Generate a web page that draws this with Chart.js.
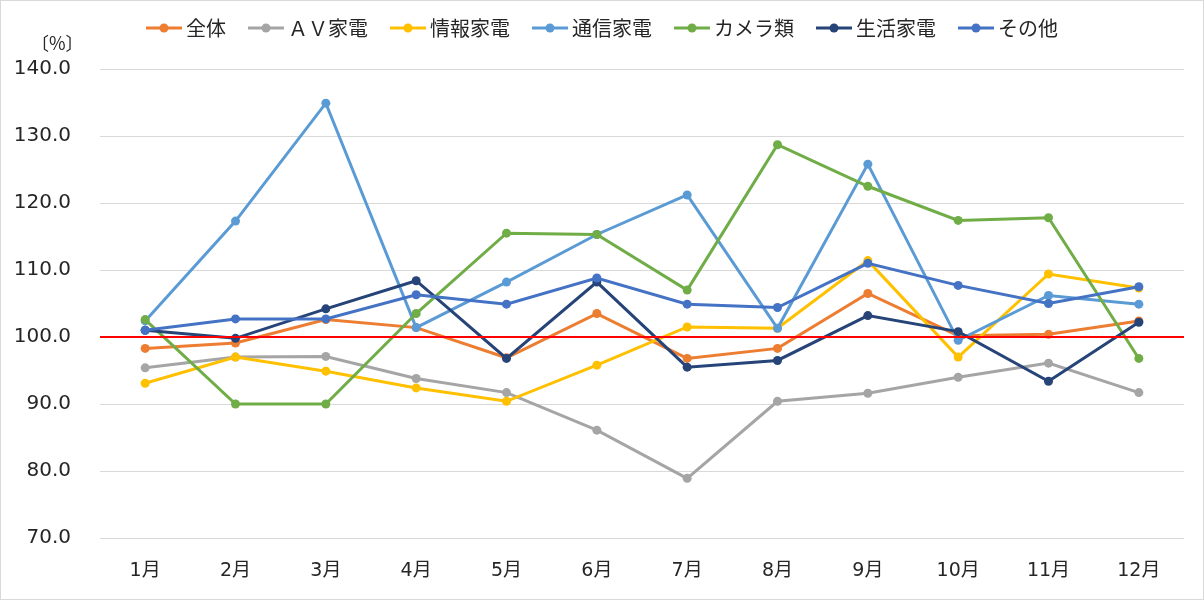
<!DOCTYPE html>
<html>
<head>
<meta charset="utf-8">
<script src="https://cdn.jsdelivr.net/npm/chart.js@4/dist/chart.umd.min.js"></script>
<style>
  html, body { margin: 0; padding: 0; background: #fff; }
  canvas { display: block; }
</style>
</head>
<body>
<canvas id="c" width="1204" height="600"></canvas>
<script>
const months = ['1月','2月','3月','4月','5月','6月','7月','8月','9月','10月','11月','12月'];
const seriesNames = ['全体','ＡＶ家電','情報家電','通信家電','カメラ類','生活家電','その他'];
const zentai   = [98.3, 99.1, 102.6, 101.4, 96.9, 103.5, 96.8, 98.3, 106.5, 100.2, 100.4, 102.4];
const avKaden  = [95.4, 97.0, 97.1, 93.8, 91.7, 86.1, 78.9, 90.4, 91.6, 94.0, 96.1, 91.7];
const johoKaden= [93.1, 97.0, 94.9, 92.4, 90.4, 95.8, 101.5, 101.3, 111.4, 97.0, 109.4, 107.3];
const tsushin  = [102.4, 117.3, 134.9, 101.4, 108.2, 115.3, 121.2, 101.3, 125.8, 99.5, 106.2, 104.9];
const camera   = [102.6, 90.0, 90.0, 103.5, 115.5, 115.3, 107.0, 128.7, 122.5, 117.4, 117.8, 96.8];
const seikatsu = [101.0, 99.8, 104.2, 108.4, 96.8, 108.2, 95.5, 96.5, 103.2, 100.8, 93.4, 102.2];
const sonota   = [101.0, 102.7, 102.7, 106.3, 104.9, 108.8, 104.9, 104.4, 111.0, 107.7, 105.0, 107.5];
const referenceLine = 100;
const yMin = 70, yMax = 140, yStep = 10;
const unitLabel = '〔%〕';

const seriesValues = [zentai, avKaden, johoKaden, tsushin, camera, seikatsu, sonota];
const colors = ['#ED7D31','#A5A5A5','#FFC000','#5B9BD5','#70AD47','#264478','#4472C4'];

function makeLegendIcon(color) {
  const cv = document.createElement('canvas');
  cv.width = 36; cv.height = 12;
  const g = cv.getContext('2d');
  g.strokeStyle = color; g.lineWidth = 3;
  g.beginPath(); g.moveTo(0, 6); g.lineTo(36, 6); g.stroke();
  g.fillStyle = color;
  g.beginPath(); g.arc(18, 6, 4.5, 0, Math.PI * 2); g.fill();
  return cv;
}
const legendIcons = colors.map(makeLegendIcon);

const datasets = seriesNames.map((name, i) => ({
  label: name,
  data: seriesValues[i],
  borderColor: colors[i],
  backgroundColor: colors[i],
  pointBackgroundColor: colors[i],
  pointBorderColor: colors[i],
  pointRadius: 4.5,
  pointBorderWidth: 0,
  borderWidth: 3,
  tension: 0,
  order: 10 - i
}));

const decorPlugin = {
  id: 'decor',
  beforeLayout(chart) {
    const lg = chart.legend;
    if (lg && !lg._patched) {
      const origFit = lg.fit;
      lg.fit = function () { origFit.call(this); this.height += 21; };
      const origDraw = lg.draw;
      lg.draw = function (area) {
        const ctx = this.ctx;
        ctx.save();
        ctx.translate(13, 0);
        origDraw.call(this, area);
        ctx.restore();
      };
      lg._patched = true;
    }
  },
  beforeDraw(chart) {
    const ctx = chart.ctx;
    ctx.save();
    ctx.fillStyle = '#ffffff';
    ctx.fillRect(0, 0, chart.width, chart.height);
    ctx.restore();
  },
  afterDatasetsDraw(chart) {
    const ctx = chart.ctx, a = chart.chartArea;
    const y = chart.scales.y.getPixelForValue(referenceLine);
    ctx.save();
    ctx.strokeStyle = '#FF0000';
    ctx.lineWidth = 2;
    ctx.beginPath(); ctx.moveTo(a.left, y); ctx.lineTo(a.right, y); ctx.stroke();
    ctx.restore();
  },
  afterDraw(chart) {
    const ctx = chart.ctx;
    ctx.save();
    ctx.fillStyle = '#262626';
    ctx.font = '18px "Noto Sans CJK JP"';
    ctx.textBaseline = 'middle';
    ctx.textAlign = 'left';
    ctx.fillText(unitLabel, 31, 43);
    ctx.strokeStyle = '#d9d9d9';
    ctx.lineWidth = 1;
    ctx.strokeRect(0.5, 0.5, chart.width - 1, chart.height - 1);
    ctx.restore();
  }
};

new Chart(document.getElementById('c'), {
  type: 'line',
  data: { labels: months, datasets },
  options: {
    responsive: false,
    animation: false,
    devicePixelRatio: 1,
    layout: { padding: { top: -10, right: 20, bottom: 0, left: 0 } },
    plugins: {
      tooltip: { enabled: false },
      legend: {
        position: 'top',
        labels: {
          usePointStyle: true,
          pointStyleWidth: 24,
          padding: 28,
          color: '#262626',
          font: { family: '"Noto Sans CJK JP"', size: 20 },
          sort: (a, b) => a.datasetIndex - b.datasetIndex,
          generateLabels(chart) {
            const items = Chart.defaults.plugins.legend.labels.generateLabels(chart);
            items.forEach(it => { it.pointStyle = legendIcons[it.datasetIndex]; });
            return items;
          }
        }
      }
    },
    scales: {
      x: {
        offset: true,
        grid: { display: false, drawTicks: false },
        border: { display: false },
        ticks: {
          padding: 22,
          color: '#262626',
          font: { family: '"DejaVu Sans", "Noto Sans CJK JP"', size: 19, lineHeight: 1.2 }
        },
        afterFit(s) { s.height = 62; }
      },
      y: {
        min: yMin, max: yMax,
        grid: { color: '#d9d9d9', lineWidth: 1, drawTicks: false },
        border: { display: false },
        ticks: {
          stepSize: yStep,
          padding: 29,
          color: '#262626',
          font: { family: '"DejaVu Sans"', size: 20 },
          callback: v => Number(v).toFixed(1)
        },
        afterFit(s) { s.width = 100; }
      }
    }
  },
  plugins: [decorPlugin]
});
</script>
</body>
</html>
